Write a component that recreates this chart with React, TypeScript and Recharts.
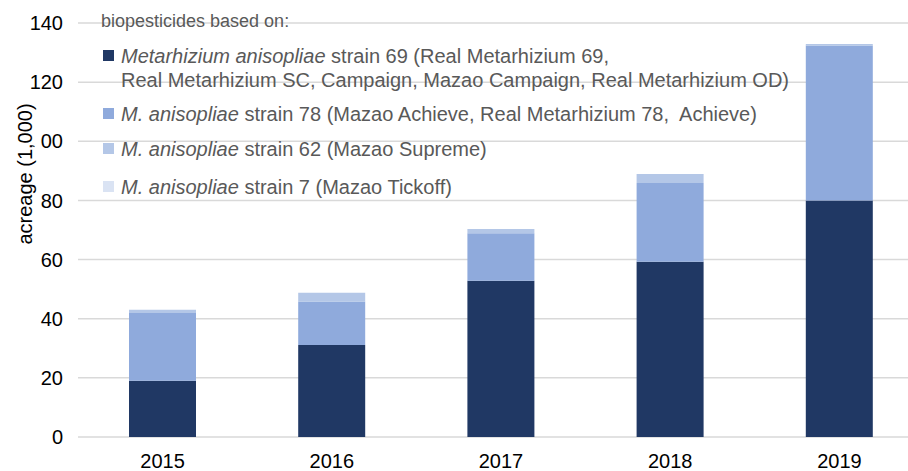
import { BarChart, Bar, XAxis, YAxis, CartesianGrid, Legend } from 'recharts';

const years = ['2015', '2016', '2017', '2018', '2019'];
const strain69 = [19.0, 31.1, 52.8, 59.3, 80.0];
const strain78 = [22.9, 14.7, 16.1, 26.6, 52.4];
const strain62 = [1.1, 3.0, 1.4, 3.0, 0.5];
const strain7 = [0, 0, 0, 0, 0];
const yTicks = [0, 20, 40, 60, 80, 100, 120, 140];

const seriesKeys = ['s69', 's78', 's62', 's7'];
const seriesColors = ['#203864', '#8FAADC', '#B4C7E7', '#DAE3F3'];
const seriesItalic = ['Metarhizium anisopliae', 'M. anisopliae', 'M. anisopliae', 'M. anisopliae'];
const seriesRest = [
  ' strain 69 (Real Metarhizium 69,\nReal Metarhizium SC, Campaign, Mazao Campaign, Real Metarhizium OD)',
  ' strain 78 (Mazao Achieve, Real Metarhizium 78,  Achieve)',
  ' strain 62 (Mazao Supreme)',
  ' strain 7 (Mazao Tickoff)',
];
const legendTitle = 'biopesticides based on:';

const data = years.map((year, i) => ({
  year,
  s69: strain69[i],
  s78: strain78[i],
  s62: strain62[i],
  s7: strain7[i],
}));

const FONT = '"Liberation Sans", Arial, sans-serif';

function LegendBox() {
  const rowTops = [44, 102, 137, 175];
  return (
    <div style={{ position: 'relative', width: 700, height: 210, fontFamily: FONT, color: '#595959' }}>
      <div style={{ position: 'absolute', left: 0, top: 9, fontSize: 18, lineHeight: '25px', whiteSpace: 'nowrap' }}>
        {legendTitle}
      </div>
      {seriesKeys.map((k, i) => (
        <div key={k} style={{ position: 'absolute', left: 0, top: rowTops[i], fontSize: 20, lineHeight: '24px' }}>
          <span
            style={{
              position: 'absolute',
              left: 2,
              top: 6,
              width: 11,
              height: 11,
              background: seriesColors[i],
            }}
          />
          <div style={{ marginLeft: 20, whiteSpace: 'pre' }}>
            <i>{seriesItalic[i]}</i>
            {seriesRest[i]}
          </div>
        </div>
      ))}
    </div>
  );
}

export default function App() {
  return (
    <div style={{ position: 'fixed', left: 0, top: 0, width: 908, height: 471, overflow: 'hidden', background: '#fff' }}>
      <BarChart width={930} height={471} data={data} margin={{ top: 23, right: 6, bottom: 4, left: 0 }}>
        <CartesianGrid vertical={false} stroke="#D9D9D9" strokeWidth={1.5} />
        <XAxis
          dataKey="year"
          height={30}
          axisLine={false}
          tickLine={false}
          tickMargin={11}
          tick={{ fill: '#000', fontSize: 20, fontFamily: FONT }}
        />
        <YAxis
          width={78}
          domain={[0, 140]}
          ticks={yTicks}
          axisLine={false}
          tickLine={false}
          tickMargin={9}
          tickFormatter={(v) => (v === 100 ? '00' : String(v))}
          tick={{ fill: '#000', fontSize: 20, fontFamily: FONT }}
          label={{
            content: () => (
              <text
                x={25}
                y={174}
                transform="rotate(-90 25 174)"
                textAnchor="middle"
                dominantBaseline="central"
                fontSize={20}
                fontFamily={FONT}
                fill="#000"
              >
                acreage (1,000)
              </text>
            ),
          }}
        />
        <Legend
          layout="horizontal"
          verticalAlign="middle"
          align="center"
          wrapperStyle={{ left: 101, top: 0, width: 700 }}
          content={() => <LegendBox />}
        />
        {seriesKeys.map((k, i) => (
          <Bar key={k} dataKey={k} stackId="a" fill={seriesColors[i]} barSize={67} isAnimationActive={false} />
        ))}
      </BarChart>
    </div>
  );
}
